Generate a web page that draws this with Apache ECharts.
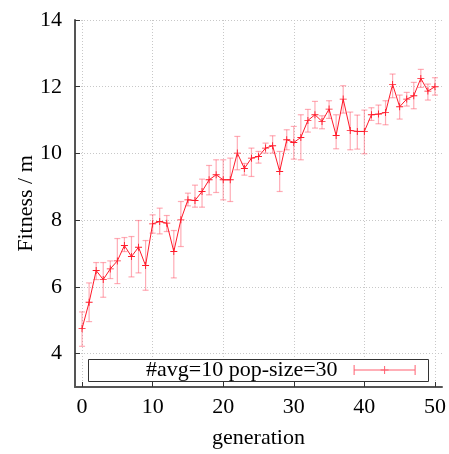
<!DOCTYPE html>
<html>
<head>
<meta charset="utf-8">
<script src="https://cdn.jsdelivr.net/npm/echarts@6/dist/echarts.min.js"></script>
<style>html,body{margin:0;padding:0;background:#fff}#c{width:449px;height:454px}</style>
</head>
<body>
<div id="c"></div>
<script>
const generations = [0,1,2,3,4,5,6,7,8,9,10,11,12,13,14,15,16,17,18,19,20,21,22,23,24,25,26,27,28,29,30,31,32,33,34,35,36,37,38,39,40,41,42,43,44,45,46,47,48,49,50];
const fitnessMean = [4.75,5.54,6.49,6.22,6.54,6.78,7.24,6.91,7.19,6.64,7.89,7.96,7.91,7.06,8.01,8.61,8.59,8.86,9.21,9.36,9.21,9.21,10.01,9.55,9.86,9.91,10.16,10.23,9.46,10.41,10.33,10.48,10.99,11.16,10.96,11.33,10.54,11.63,10.69,10.66,10.66,11.16,11.18,11.23,12.07,11.40,11.63,11.73,12.25,11.87,12.00];
const fitnessHigh = [5.25,6.12,6.73,6.73,6.78,7.45,7.48,7.51,7.99,7.39,8.16,8.36,8.14,7.69,8.56,8.81,9.05,9.23,9.64,9.81,9.81,9.86,10.51,9.70,10.16,10.06,10.31,10.53,10.06,10.71,10.81,11.16,11.32,11.56,11.13,11.58,11.16,12.03,11.24,11.15,11.30,11.37,11.45,11.58,12.38,11.75,11.83,12.13,12.52,12.08,12.27];
const fitnessLow = [4.22,4.96,6.22,5.69,6.25,6.10,7.06,6.30,6.42,5.90,7.61,7.59,7.66,6.27,7.21,8.43,8.39,8.39,8.76,8.83,8.61,8.56,9.51,9.35,9.31,9.71,10.01,10.01,8.86,10.11,9.83,9.81,10.64,10.76,10.74,11.05,10.14,11.21,10.11,10.13,9.99,10.99,10.89,10.86,11.67,11.03,11.42,11.34,11.98,11.60,11.75];
const xTicks = [0,10,20,30,40,50];
const yTicks = [4,6,8,10,12,14];
const seriesName = '#avg=10 pop-size=30';

const FONT = '"Liberation Serif", "DejaVu Serif", serif';
const errColor = 'rgba(255,90,110,0.5)';
const lineColor = '#ff1a2a';

const chart = echarts.init(document.getElementById('c'), null, {renderer: 'canvas'});
const gridLine = {show: true, lineStyle: {color: '#c8c8c8', width: 1, type: [1, 2]}};

chart.setOption({
  animation: false,
  backgroundColor: '#fff',
  grid: {left: 75, right: 7, top: 20, bottom: 67, containLabel: false},
  xAxis: {
    type: 'value', min: -1, max: 51,
    name: 'generation', nameLocation: 'middle', nameGap: 40,
    nameTextStyle: {fontFamily: FONT, fontSize: 22, color: '#000'},
    axisLine: {show: true, onZero: false, lineStyle: {color: '#555', width: 2}},
    axisTick: {show: true, inside: true, length: 5, customValues: xTicks, lineStyle: {color: '#333', width: 1}},
    axisLabel: {customValues: xTicks, fontFamily: FONT, fontSize: 22, color: '#000', margin: 9},
    splitLine: gridLine
  },
  yAxis: {
    type: 'value', min: 3, max: 14,
    name: 'Fitness / m', nameLocation: 'middle', nameGap: 38, nameRotate: 90,
    nameMoveOverlap: false,
    nameTextStyle: {fontFamily: FONT, fontSize: 22, color: '#000'},
    axisLine: {show: true, onZero: false, lineStyle: {color: '#555', width: 2}},
    axisTick: {show: true, inside: true, length: 5, customValues: yTicks, lineStyle: {color: '#333', width: 1}},
    axisLabel: {customValues: yTicks, fontFamily: FONT, fontSize: 22, color: '#000', margin: 13},
    splitLine: gridLine
  },
  legend: {
    show: true, left: 146, top: 359, z: 5, padding: 0,
    align: 'right', itemWidth: 62, itemHeight: 10,
    textStyle: {fontFamily: FONT, fontSize: 22, color: '#000', padding: [0, 11, 0, 0]},
    data: [{name: seriesName,
      icon: 'path://M0,4.5h62v1h-62z M0,0h1v10h-1z M61,0h1v10h-1z M30.5,1h1v8h-1z M27,4.3h8v1.4h-8z',
      itemStyle: {color: '#ff6070'}}]
  },
  graphic: [{
    type: 'rect', left: 88, top: 359, z: 3,
    shape: {width: 340, height: 22},
    style: {fill: '#fff', stroke: '#333', lineWidth: 1}
  }],
  series: [
    {
      type: 'custom', name: 'err', silent: true, z: 2,
      data: generations.map((g, i) => [g, fitnessLow[i], fitnessHigh[i]]),
      encode: {x: 0, y: [1, 2]},
      renderItem: function (params, api) {
        const x = api.value(0);
        const pHi = api.coord([x, api.value(2)]);
        const pLo = api.coord([x, api.value(1)]);
        const w = 3;
        const st = {stroke: errColor, lineWidth: 1.2};
        return {type: 'group', children: [
          {type: 'line', shape: {x1: pHi[0], y1: pHi[1], x2: pLo[0], y2: pLo[1]}, style: st},
          {type: 'line', shape: {x1: pHi[0] - w, y1: pHi[1], x2: pHi[0] + w, y2: pHi[1]}, style: st},
          {type: 'line', shape: {x1: pLo[0] - w, y1: pLo[1], x2: pLo[0] + w, y2: pLo[1]}, style: st}
        ]};
      }
    },
    {
      type: 'line', name: seriesName, z: 3,
      data: generations.map((g, i) => [g, fitnessMean[i]]),
      lineStyle: {color: lineColor, width: 1},
      itemStyle: {color: lineColor},
      symbol: 'path://M0,3.5h8v1h-8z M3.5,0h1v8h-1z',
      symbolSize: 7,
      showSymbol: true
    }
  ]
});
</script>
</body>
</html>
